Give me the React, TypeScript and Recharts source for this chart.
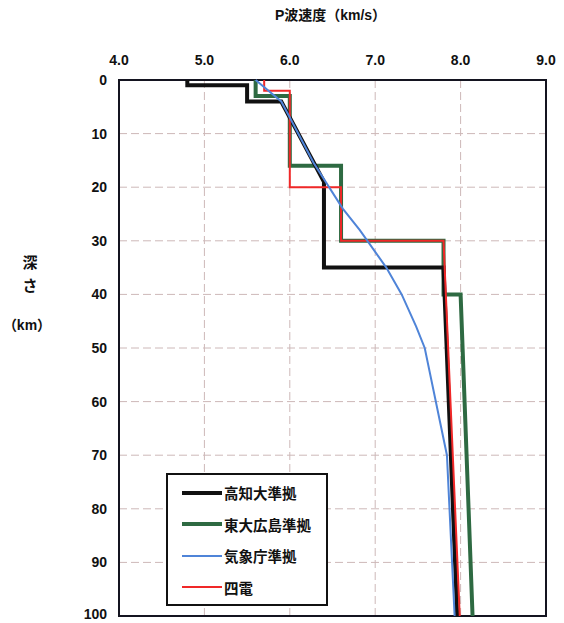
import { CartesianGrid, Legend, Line, LineChart, ReferenceArea, XAxis, YAxis } from 'recharts';

// P-wave velocity (km/s) against depth (km) for four crustal models
const velocityTicks = [4, 5, 6, 7, 8, 9];
const depthTicks = [0, 10, 20, 30, 40, 50, 60, 70, 80, 90, 100];

const kochiVelocity = [4.8, 4.8, 5.5, 5.5, 5.9, 6.4, 6.4, 7.8, 7.96];
const kochiDepth = [0, 1, 1, 4, 4, 19, 35, 35, 100];

const todaiVelocity = [5.6, 5.6, 6.0, 6.0, 6.6, 6.6, 7.8, 7.8, 8.0, 8.14];
const todaiDepth = [0, 3, 3, 16, 16, 30, 30, 40, 40, 100];

const jmaVelocity = [5.6, 5.9, 6.0, 6.28, 6.62, 6.82, 7.13, 7.31, 7.48, 7.58, 7.84, 7.93];
const jmaDepth = [0, 4, 7, 15.5, 24, 28, 35, 40, 46, 50, 70, 100];

const yondenVelocity = [5.7, 5.7, 6.0, 6.0, 6.6, 6.6, 7.8, 7.99];
const yondenDepth = [0, 2, 2, 20, 20, 30, 30, 100];

const seriesNames = ['高知大準拠', '東大広島準拠', '気象庁準拠', '四電'];
const seriesColors = ['#111111', '#2e6a42', '#4f84d8', '#f02828'];
const seriesWidths = [4, 4, 2, 2];

const FONT = "'Liberation Sans', 'Noto Sans CJK JP', sans-serif";

type Point = { v: number; d: number };

function toPoints(velocity: number[], depth: number[]): Point[] {
  return velocity.map((v, i) => ({ v, d: depth[i] }));
}

const series = [
  toPoints(kochiVelocity, kochiDepth),
  toPoints(todaiVelocity, todaiDepth),
  toPoints(jmaVelocity, jmaDepth),
  toPoints(yondenVelocity, yondenDepth),
];

// draw order: green under black, red and blue on top
const drawOrder = [1, 0, 3, 2];

function VelocityTick(props: any) {
  const { x, payload } = props;
  return (
    <text x={x} y={60} textAnchor="middle" dominantBaseline="central" fontFamily={FONT} fontWeight="bold" fontSize={14} fill="#111">
      {Number(payload.value).toFixed(1)}
    </text>
  );
}

function DepthTick(props: any) {
  const { y, payload } = props;
  return (
    <text x={107} y={y} textAnchor="end" dominantBaseline="central" fontFamily={FONT} fontWeight="bold" fontSize={14} fill="#111">
      {payload.value}
    </text>
  );
}

function VelocityTitle(props: any) {
  const { viewBox } = props;
  const cx = viewBox.x + viewBox.width / 2;
  return (
    <text x={cx - 2} y={15} textAnchor="middle" dominantBaseline="central" fontFamily={FONT} fontWeight="bold" fontSize={14} fill="#111">
      P波速度（km/s）
    </text>
  );
}

// depth axis title, stacked one character per row
function DepthTitle() {
  return (
    <g fontFamily={FONT} fontWeight="bold" fontSize={15} fill="#111" textAnchor="middle">
      <text x={30} y={268}>深</text>
      <text x={30} y={291}>さ</text>
      <text x={27} y={330} fontSize={14}>（km）</text>
    </g>
  );
}

function ModelLegend() {
  return (
    <div
      style={{
        width: 158,
        height: 127,
        border: '2px solid #111',
        background: '#fff',
        boxSizing: 'content-box',
        paddingTop: 2,
      }}
    >
      {seriesNames.map((name, i) => (
        <div key={name} style={{ display: 'flex', alignItems: 'center', height: 31.5 }}>
          <div style={{ width: 40, height: seriesWidths[i], background: seriesColors[i], marginLeft: 14, marginRight: 2 }} />
          <span style={{ fontFamily: FONT, fontWeight: 'bold', fontSize: 14.5, color: '#111' }}>{name}</span>
        </div>
      ))}
    </div>
  );
}

export default function App() {
  return (
    <div style={{ position: 'absolute', left: 0, top: 0, width: 564, height: 623, background: '#fff' }}>
      <LineChart width={564} height={623} margin={{ top: 0, right: 18, bottom: 7, left: 0 }}>
        <CartesianGrid stroke="#cdb8b8" strokeDasharray="8 4" />
        <XAxis
          xAxisId={0}
          type="number"
          dataKey="v"
          orientation="top"
          domain={[4, 9]}
          ticks={velocityTicks}
          height={80}
          axisLine={false}
          tickLine={false}
          tick={<VelocityTick />}
          allowDuplicatedCategory={false}
          label={<VelocityTitle />}
        />
        <YAxis
          yAxisId={0}
          type="number"
          domain={[0, 100]}
          ticks={depthTicks}
          reversed
          width={119}
          axisLine={false}
          tickLine={false}
          tick={<DepthTick />}
          label={<DepthTitle />}
        />
        {drawOrder.map((i) => (
          <Line
            key={seriesNames[i]}
            data={series[i]}
            dataKey="d"
            name={seriesNames[i]}
            type="linear"
            stroke={seriesColors[i]}
            strokeWidth={seriesWidths[i]}
            dot={false}
            activeDot={false}
            isAnimationActive={false}
            strokeLinejoin="miter"
          />
        ))}
        <ReferenceArea x1={4} x2={9} y1={0} y2={100} fill="none" stroke="#141420" strokeWidth={2} ifOverflow="visible" />
        <Legend
          layout="horizontal"
          align="center"
          verticalAlign="middle"
          content={<ModelLegend />}
          wrapperStyle={{ position: 'absolute', left: 166, top: 473, width: 'auto', height: 'auto' }}
        />
      </LineChart>
    </div>
  );
}
